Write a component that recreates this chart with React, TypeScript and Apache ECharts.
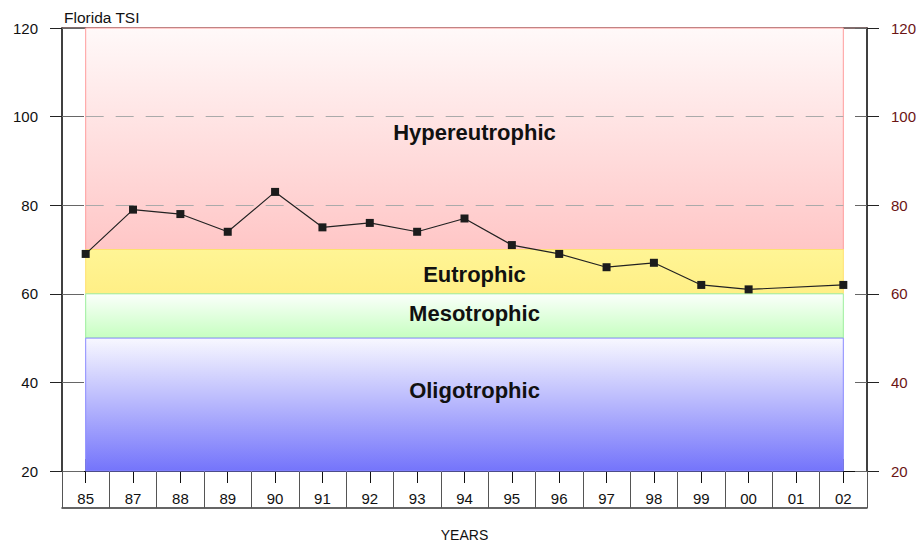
import React, { useEffect, useRef } from "react";
import * as echarts from "echarts";

const years = ["85", "87", "88", "89", "90", "91", "92", "93", "94", "95", "96", "97", "98", "99", "00", "01", "02"];
const tsiValues: (number | null)[] = [69, 79, 78, 74, 83, 75, 76, 74, 77, 71, 69, 66, 67, 62, 61, null, 62];
const yTicks = { min: 20, max: 120, interval: 20 };
const bands = [
  { name: "Hypereutrophic", from: 70, to: 120 },
  { name: "Eutrophic", from: 60, to: 70 },
  { name: "Mesotrophic", from: 50, to: 60 },
  { name: "Oligotrophic", from: 20, to: 50 },
];
const dashedLevels = [80, 100];

const FONT = "'Liberation Sans', Arial, Helvetica, sans-serif";

const grad = (top: string, bottom: string) => ({
  type: "linear",
  x: 0,
  y: 0,
  x2: 0,
  y2: 1,
  colorStops: [
    { offset: 0, color: top },
    { offset: 1, color: bottom },
  ],
});

const bandStyles: Record<string, any> = {
  Hypereutrophic: { fill: grad("#fff9f9", "#ffc6c6"), border: "#ff9c9c", offset: [10, -6] },
  Eutrophic: { fill: grad("#fff595", "#ffef86"), border: "#ffe070", offset: [10, 3] },
  Mesotrophic: { fill: grad("#fbfffb", "#c6ffc0"), border: "#9cee9c", offset: [10, -2] },
  Oligotrophic: { fill: grad("#f8f8ff", "#7474fb"), border: "#8a8aff", offset: [10, -14] },
};

export default function App() {
  const ref = useRef<HTMLDivElement>(null);
  useEffect(() => {
    if (!ref.current) return;
    const chart = echarts.init(ref.current, undefined, { renderer: "svg" });
    const catAxisBase = {
      type: "category",
      data: years,
      boundaryGap: true,
      position: "bottom",
      gridIndex: 0,
    };
    const yBase = { type: "value", min: yTicks.min, max: yTicks.max, interval: yTicks.interval, splitLine: { show: false } };
    chart.setOption({
      animation: false,
      textStyle: { fontFamily: FONT },
      title: {
        text: "Florida TSI",
        left: 59,
        top: 4,
        textStyle: { fontFamily: FONT, fontSize: 15.5, fontWeight: "normal", color: "#111" },
      },
      grid: { left: 62, right: 54, top: 28, bottom: 77, containLabel: false, outerBoundsMode: "none" },
      xAxis: [
        {
          ...catAxisBase,
          axisLine: { show: true, lineStyle: { color: "#111", width: 1 } },
          axisTick: { show: true, inside: true, length: 12, alignWithLabel: true, interval: 0, lineStyle: { color: "#111" } },
          axisLabel: { show: false },
        },
        {
          ...catAxisBase,
          axisLine: { show: false },
          axisTick: { show: true, inside: false, length: 12, alignWithLabel: true, interval: 0, lineStyle: { color: "#111" } },
          axisLabel: { show: true, interval: 0, margin: 20, fontSize: 15, color: "#111", fontFamily: FONT },
        },
        {
          ...catAxisBase,
          axisLine: { show: false },
          axisTick: { show: true, inside: false, length: 37, alignWithLabel: false, interval: 0, lineStyle: { color: "#555" } },
          axisLabel: { show: false },
        },
        {
          ...catAxisBase,
          offset: 37,
          axisLine: { show: true, lineStyle: { color: "#333", width: 1.5 } },
          axisTick: { show: false },
          axisLabel: { show: false },
          name: "YEARS",
          nameLocation: "middle",
          nameGap: 20,
          nameTextStyle: { fontSize: 14, color: "#111", fontFamily: FONT },
        },
        {
          ...catAxisBase,
          position: "top",
          axisLine: { show: true, lineStyle: { color: "#5a3c3c", width: 1.5 } },
          axisTick: { show: false },
          axisLabel: { show: false },
        },
      ],
      yAxis: [
        {
          ...yBase,
          position: "left",
          axisLine: { show: true, lineStyle: { color: "#000", width: 1.5 } },
          axisTick: { show: true, inside: false, length: 12, lineStyle: { color: "#222" } },
          axisLabel: { show: true, margin: 24, fontSize: 15, color: "#111", fontFamily: FONT },
        },
        {
          ...yBase,
          position: "left",
          axisLine: { show: false },
          axisTick: { show: true, inside: true, length: 22, lineStyle: { color: "#666" } },
          axisLabel: { show: false },
        },
        {
          ...yBase,
          position: "right",
          axisLine: { show: true, lineStyle: { color: "#000", width: 1.5 } },
          axisTick: { show: true, inside: false, length: 12, lineStyle: { color: "#222" } },
          axisLabel: { show: true, margin: 24, fontSize: 15, color: "#6b1414", fontFamily: FONT },
        },
        {
          ...yBase,
          position: "right",
          axisLine: { show: false },
          axisTick: { show: true, inside: true, length: 12, lineStyle: { color: "#666" } },
          axisLabel: { show: false },
        },
      ],
      series: [
        {
          type: "line",
          name: "TSI",
          xAxisIndex: 0,
          yAxisIndex: 0,
          data: tsiValues,
          connectNulls: true,
          symbol: "rect",
          symbolSize: 8,
          z: 5,
          lineStyle: { color: "#222", width: 1.2 },
          itemStyle: { color: "#1c1c1c" },
          markArea: {
            silent: true,
            z: 1,
            data: bands.map((b) => [
              {
                name: b.name,
                xAxis: years[0],
                yAxis: b.to,
                itemStyle: {
                  color: bandStyles[b.name].fill,
                  borderColor: bandStyles[b.name].border,
                  borderWidth: 1,
                },
                label: {
                  show: true,
                  position: "inside",
                  offset: bandStyles[b.name].offset,
                  fontSize: 22,
                  fontWeight: "bold",
                  color: "#111",
                  fontFamily: FONT,
                },
              },
              { xAxis: years[years.length - 1], yAxis: b.from },
            ]),
          },
          markLine: {
            silent: true,
            symbol: "none",
            label: { show: false },
            lineStyle: { color: "#aaa", type: [18, 12], width: 1 },
            data: dashedLevels.map((v) => [
              { coord: [years[0], v] },
              { coord: [years[years.length - 1], v] },
            ]),
          },
        },
      ],
    });
    return () => chart.dispose();
  }, []);
  return (
    <div
      ref={ref}
      style={{ position: "fixed", left: 0, top: 0, width: 921, height: 548, background: "#fff" }}
    />
  );
}
